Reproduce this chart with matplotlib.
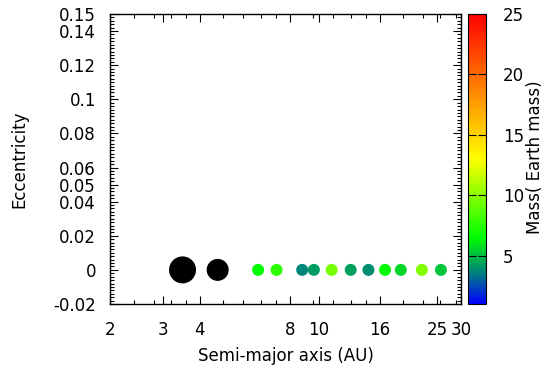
import matplotlib
matplotlib.use("Agg")
import matplotlib.pyplot as plt
import numpy as np
from matplotlib.colors import LinearSegmentedColormap, Normalize
from matplotlib.ticker import FixedLocator, NullFormatter

# ---- data ----
semi_major_au = [3.50, 4.59, 6.27, 7.23, 8.81, 9.64, 11.06, 12.81, 14.69, 16.7, 18.86, 22.18, 25.7]
eccentricity = [0, 0, 0, 0, 0, 0, 0, 0, 0, 0, 0, 0, 0]
mass_earth = [318.0, 95.0, 6.5, 7.6, 3.7, 4.2, 9.6, 4.3, 3.9, 6.5, 5.5, 9.9, 5.2]

x_ticks = [2, 3, 4, 8, 10, 16, 25, 30]
x_minor = [2.4, 2.8, 3.2, 3.6, 4.8, 5.6, 6.4, 7.2, 9.6, 11.2, 12.8, 14.4, 19.2, 22.4, 25.6, 28.8]
y_ticks = [-0.02, 0, 0.02, 0.04, 0.05, 0.06, 0.08, 0.1, 0.12, 0.14, 0.15]
y_tick_labels = ["-0.02", "0", "0.02", "0.04", "0.05", "0.06", "0.08", "0.1", "0.12", "0.14", "0.15"]
cbar_ticks = [5, 10, 15, 20, 25]

# ---- style ----
marker_px = [27, 22, 12, 12, 12, 12, 12, 12, 12, 12, 12, 12, 12]
vmin, vmax = 1, 25

def frac(v):
    return (v - vmin) / (vmax - vmin)

cmap = LinearSegmentedColormap.from_list(
    "gp",
    [(frac(1), (0, 0, 1)), (frac(3.5), (0, 0.5, 0.5)), (frac(6.5), (0, 1, 0)),
     (frac(13), (1, 1, 0)), (frac(25), (1, 0, 0))])
norm = Normalize(vmin, vmax)

plt.rcParams["font.family"] = "DejaVu Sans"
plt.rcParams["font.size"] = 12

fig = plt.figure(figsize=(5.45, 3.70), dpi=100)
W, H = 545, 370
ax = fig.add_axes([110 / W, (H - 304) / H, (461 - 110) / W, (304 - 14) / H])
cax = fig.add_axes([468 / W, (H - 304) / H, 18 / W, (304 - 14) / H])

colors = []
for m in mass_earth:
    if m > vmax:
        colors.append("black")
    else:
        colors.append(cmap(norm(m)))
sizes = [(d * 72 / 100) ** 2 for d in marker_px]
ax.scatter(semi_major_au, eccentricity, s=sizes, c=colors, edgecolors="none", zorder=3)

ax.set_xscale("log")
ax.set_xlim(2, 30)
ax.set_ylim(-0.02, 0.15)
ax.xaxis.set_major_locator(FixedLocator(x_ticks))
ax.set_xticklabels([str(t) for t in x_ticks])
ax.xaxis.set_minor_locator(FixedLocator(x_minor))
ax.xaxis.set_minor_formatter(NullFormatter())
ax.set_yticks(y_ticks)
ax.set_yticklabels(y_tick_labels)
ax.yaxis.set_minor_locator(FixedLocator(np.arange(-0.02, 0.1501, 0.002)))

ax.tick_params(which="both", direction="in", top=True, right=True, width=0.8, color="black")
ax.tick_params(which="major", length=6, labelsize=12)
ax.tick_params(axis="y", which="major", pad=10)
ax.tick_params(axis="x", which="major", pad=12)
ax.tick_params(which="minor", length=3)
for sp in ax.spines.values():
    sp.set_linewidth(1.0)

ax.set_xlabel("Semi-major axis (AU)", fontsize=12, labelpad=6)
ax.set_ylabel("Eccentricity", fontsize=12, labelpad=18)

sm = plt.cm.ScalarMappable(norm=norm, cmap=cmap)
cb = fig.colorbar(sm, cax=cax)
cb.set_ticks(cbar_ticks)
cb.ax.tick_params(direction="in", length=6, width=0.8, left=True, right=True, labelsize=12, pad=12)
cb.outline.set_linewidth(0.8)
fig.text(535 / W, 1 - 157 / H, "Mass( Earth mass)", rotation=90, ha="center", va="center", fontsize=12)

fig.savefig("out.png", dpi=100)
